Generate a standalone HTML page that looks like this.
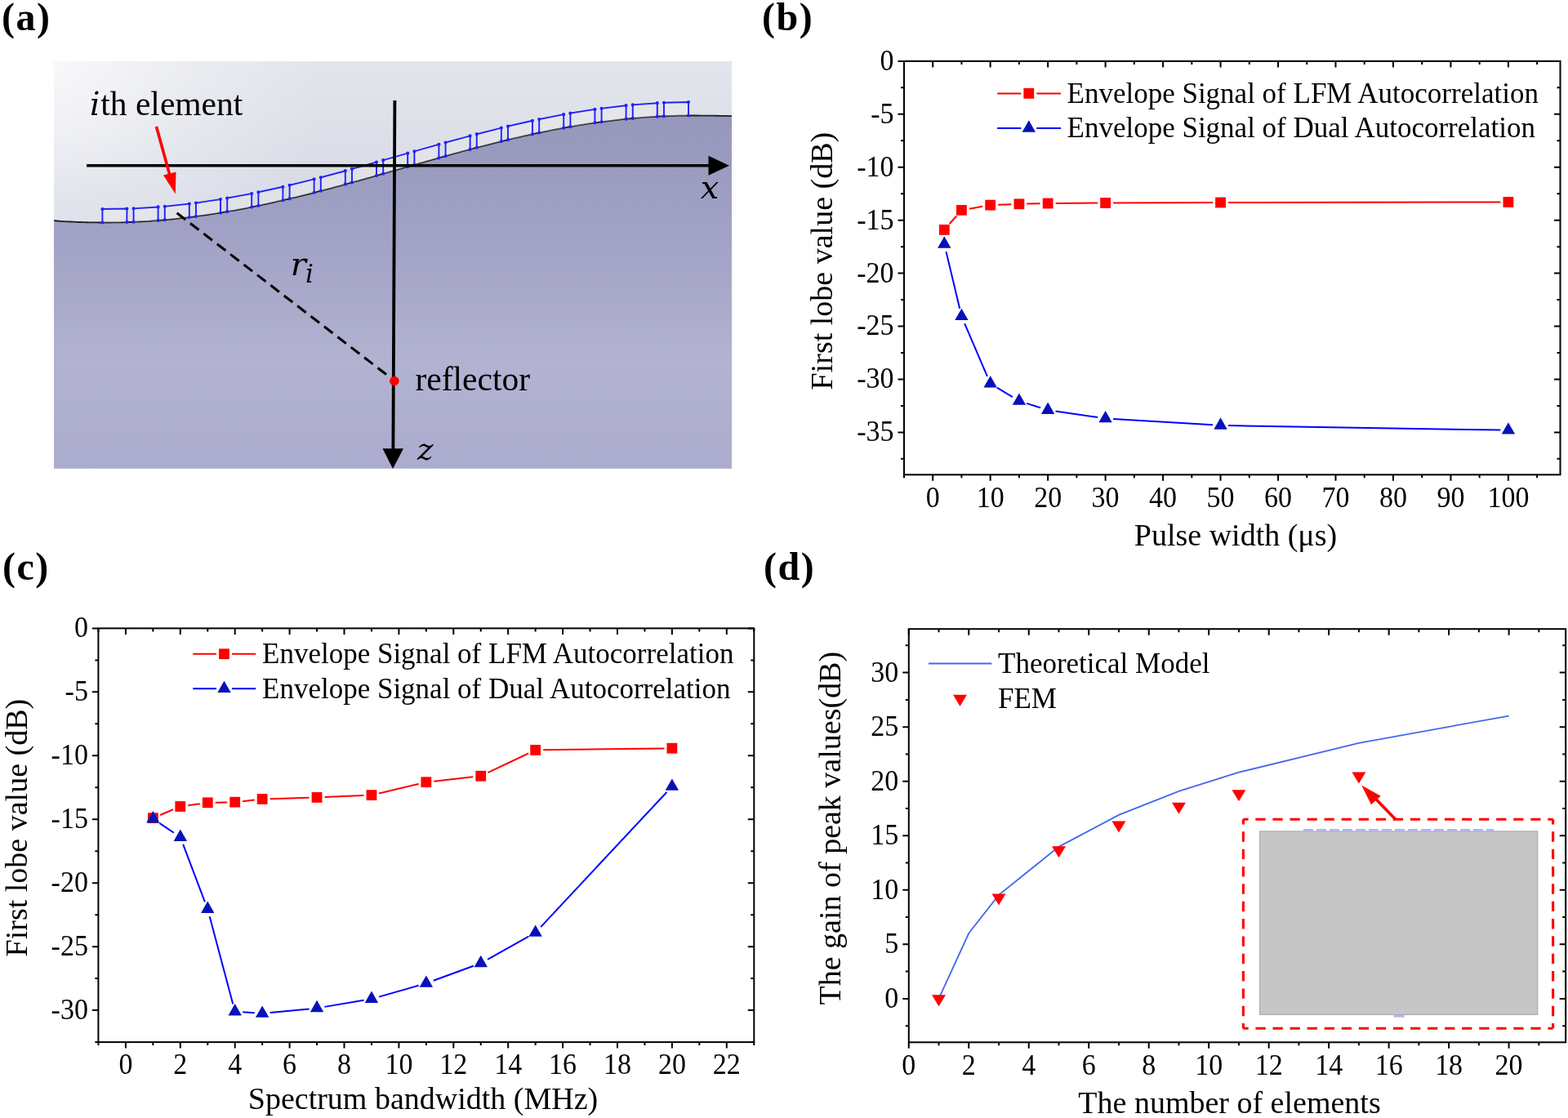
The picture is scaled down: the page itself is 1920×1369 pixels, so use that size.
<!DOCTYPE html>
<html><head><meta charset="utf-8"><title>Figure</title>
<style>html,body{margin:0;padding:0;background:#fff;width:1920px;height:1369px;overflow:hidden}svg{display:block}text{font-family:'Liberation Serif','Times New Roman',serif}</style>
</head><body>
<svg width="1920" height="1369" viewBox="0 0 1920 1369" font-family="'Liberation Serif','Times New Roman',serif">
<text x="2" y="36.5" font-size="48" font-weight="bold" letter-spacing="1.5">(a)</text>
<text x="933" y="36.5" font-size="48" font-weight="bold" letter-spacing="1.5">(b)</text>
<text x="3" y="709.5" font-size="48" font-weight="bold" letter-spacing="1.5">(c)</text>
<text x="935" y="709.5" font-size="48" font-weight="bold" letter-spacing="1.5">(d)</text>
<defs><linearGradient id="gup" gradientUnits="userSpaceOnUse" x1="0" y1="75" x2="0" y2="272"><stop offset="0" stop-color="#e3e5ec"/><stop offset="0.5" stop-color="#dcdfe8"/><stop offset="1" stop-color="#d5d8e5"/></linearGradient><radialGradient id="gupx" gradientUnits="userSpaceOnUse" cx="66" cy="75" r="330"><stop offset="0" stop-color="#fff" stop-opacity="0.75"/><stop offset="0.5" stop-color="#fff" stop-opacity="0.3"/><stop offset="1" stop-color="#fff" stop-opacity="0"/></radialGradient><linearGradient id="glo" gradientUnits="userSpaceOnUse" x1="0" y1="140" x2="0" y2="574"><stop offset="0" stop-color="#9597bb"/><stop offset="0.35" stop-color="#a1a2c5"/><stop offset="0.7" stop-color="#b2b2d1"/><stop offset="1" stop-color="#abacce"/></linearGradient></defs>
<rect x="66" y="75" width="830" height="498.7" fill="url(#gup)"/>
<rect x="66" y="75" width="830" height="498.7" fill="url(#gupx)"/>
<path d="M66 270.2L70 270.5L74 270.78L78 271.04L82 271.28L86 271.5L90 271.69L94 271.87L98 272.02L102 272.15L106 272.26L110 272.35L114 272.42L118 272.47L122 272.49L126 272.5L130 272.51L134 272.5L138 272.46L142 272.41L146 272.34L150 272.24L154 272.13L158 271.99L162 271.84L166 271.67L170 271.48L174 271.26L178 271.03L182 270.78L186 270.51L190 270.22L194 269.91L198 269.58L202 269.23L206 268.87L210 268.48L214 268.08L218 267.65L222 267.21L226 266.75L230 266.28L234 265.78L238 265.27L242 264.73L246 264.19L250 263.62L254 263.04L258 262.43L262 261.82L266 261.18L270 260.53L274 259.86L278 259.18L282 258.48L286 257.77L290 257.04L294 256.29L298 255.53L302 254.76L306 253.97L310 253.16L314 252.34L318 251.51L322 250.66L326 249.81L330 248.93L334 248.05L338 247.15L342 246.24L346 245.32L350 244.39L354 243.44L358 242.49L362 241.52L366 240.54L370 239.56L374 238.56L378 237.55L382 236.54L386 235.51L390 234.48L394 233.44L398 232.39L402 231.33L406 230.26L410 229.19L414 228.11L418 227.03L422 225.93L426 224.84L430 223.73L434 222.63L438 221.51L442 220.4L446 219.28L450 218.15L454 217.02L458 215.89L462 214.76L466 213.62L470 212.48L474 211.34L478 210.2L482 209.06L486 207.91L490 206.77L494 205.63L498 204.48L502 203.34L506 202.2L510 201.06L514 199.92L518 198.79L522 197.66L526 196.53L530 195.4L534 194.28L538 193.16L542 192.04L546 190.93L550 189.82L554 188.72L558 187.63L562 186.54L566 185.46L570 184.38L574 183.31L578 182.25L582 181.19L586 180.15L590 179.11L594 178.08L598 177.05L602 176.04L606 175.04L610 174.05L614 173.06L618 172.09L622 171.13L626 170.18L630 169.24L634 168.31L638 167.39L642 166.49L646 165.59L650 164.72L654 163.85L658 162.99L662 162.15L666 161.33L670 160.51L674 159.72L678 158.93L682 158.16L686 157.41L690 156.67L694 155.94L698 155.24L702 154.54L706 153.87L710 153.21L714 152.56L718 151.93L722 151.32L726 150.73L730 150.15L734 149.59L738 149.05L742 148.53L746 148.02L750 147.53L754 147.06L758 146.61L762 146.17L766 145.76L770 145.36L774 144.98L778 144.62L782 144.28L786 143.96L790 143.66L794 143.38L798 143.12L802 142.87L806 142.65L810 142.44L814 142.26L818 142.1L822 141.95L826 141.82L830 141.72L834 141.63L838 141.57L842 141.52L846 141.5L850 141.51L854 141.52L858 141.54L862 141.57L866 141.6L870 141.64L874 141.69L878 141.75L882 141.82L886 141.89L890 141.97L896 142.05L896 573.7L66 573.7Z" fill="url(#glo)"/>
<path d="M66 270.2L70 270.5L74 270.78L78 271.04L82 271.28L86 271.5L90 271.69L94 271.87L98 272.02L102 272.15L106 272.26L110 272.35L114 272.42L118 272.47L122 272.49L126 272.5L130 272.51L134 272.5L138 272.46L142 272.41L146 272.34L150 272.24L154 272.13L158 271.99L162 271.84L166 271.67L170 271.48L174 271.26L178 271.03L182 270.78L186 270.51L190 270.22L194 269.91L198 269.58L202 269.23L206 268.87L210 268.48L214 268.08L218 267.65L222 267.21L226 266.75L230 266.28L234 265.78L238 265.27L242 264.73L246 264.19L250 263.62L254 263.04L258 262.43L262 261.82L266 261.18L270 260.53L274 259.86L278 259.18L282 258.48L286 257.77L290 257.04L294 256.29L298 255.53L302 254.76L306 253.97L310 253.16L314 252.34L318 251.51L322 250.66L326 249.81L330 248.93L334 248.05L338 247.15L342 246.24L346 245.32L350 244.39L354 243.44L358 242.49L362 241.52L366 240.54L370 239.56L374 238.56L378 237.55L382 236.54L386 235.51L390 234.48L394 233.44L398 232.39L402 231.33L406 230.26L410 229.19L414 228.11L418 227.03L422 225.93L426 224.84L430 223.73L434 222.63L438 221.51L442 220.4L446 219.28L450 218.15L454 217.02L458 215.89L462 214.76L466 213.62L470 212.48L474 211.34L478 210.2L482 209.06L486 207.91L490 206.77L494 205.63L498 204.48L502 203.34L506 202.2L510 201.06L514 199.92L518 198.79L522 197.66L526 196.53L530 195.4L534 194.28L538 193.16L542 192.04L546 190.93L550 189.82L554 188.72L558 187.63L562 186.54L566 185.46L570 184.38L574 183.31L578 182.25L582 181.19L586 180.15L590 179.11L594 178.08L598 177.05L602 176.04L606 175.04L610 174.05L614 173.06L618 172.09L622 171.13L626 170.18L630 169.24L634 168.31L638 167.39L642 166.49L646 165.59L650 164.72L654 163.85L658 162.99L662 162.15L666 161.33L670 160.51L674 159.72L678 158.93L682 158.16L686 157.41L690 156.67L694 155.94L698 155.24L702 154.54L706 153.87L710 153.21L714 152.56L718 151.93L722 151.32L726 150.73L730 150.15L734 149.59L738 149.05L742 148.53L746 148.02L750 147.53L754 147.06L758 146.61L762 146.17L766 145.76L770 145.36L774 144.98L778 144.62L782 144.28L786 143.96L790 143.66L794 143.38L798 143.12L802 142.87L806 142.65L810 142.44L814 142.26L818 142.1L822 141.95L826 141.82L830 141.72L834 141.63L838 141.57L842 141.52L846 141.5L850 141.51L854 141.52L858 141.54L862 141.57L866 141.6L870 141.64L874 141.69L878 141.75L882 141.82L886 141.89L890 141.97L896 142.05" fill="none" stroke="#1e1e24" stroke-width="1.8"/>
<path d="M125.4 272.5L125.4 256L155.4 255.58L155.4 272.08ZM163.6 271.77L163.6 255.27L193.6 253.44L193.6 269.94ZM201.8 269.25L201.8 252.75L231.8 249.56L231.8 266.06ZM240 265L240 248.5L270 244.03L270 260.53ZM278.2 259.15L278.2 242.65L308.2 237.02L308.2 253.52ZM316.4 251.85L316.4 235.35L346.4 228.73L346.4 245.23ZM354.6 243.3L354.6 226.8L384.6 219.37L384.6 235.87ZM392.8 233.75L392.8 217.25L422.8 209.22L422.8 225.72ZM431 223.46L431 206.96L461 198.54L461 215.04ZM469.2 212.71L469.2 196.21L499.2 187.64L499.2 204.14ZM507.4 201.8L507.4 185.3L537.4 176.82L537.4 193.32ZM545.6 191.04L545.6 174.54L575.6 166.38L575.6 182.88ZM583.8 180.72L583.8 164.22L613.8 156.61L613.8 173.11ZM622 171.13L622 154.63L652 147.78L652 164.28ZM660.2 162.53L660.2 146.03L690.2 140.13L690.2 156.63ZM698.4 155.17L698.4 138.67L728.4 133.88L728.4 150.38ZM736.6 149.24L736.6 132.74L766.6 129.2L766.6 145.7ZM774.8 144.91L774.8 128.41L804.8 126.21L804.8 142.71ZM813 142.3L813 125.8L843 125.01L843 141.51Z" fill="#f2f3ec" fill-opacity="0.3"/>
<path d="M125.4 272.5L125.4 256L155.4 255.58L155.4 272.08M163.6 271.77L163.6 255.27L193.6 253.44L193.6 269.94M201.8 269.25L201.8 252.75L231.8 249.56L231.8 266.06M240 265L240 248.5L270 244.03L270 260.53M278.2 259.15L278.2 242.65L308.2 237.02L308.2 253.52M316.4 251.85L316.4 235.35L346.4 228.73L346.4 245.23M354.6 243.3L354.6 226.8L384.6 219.37L384.6 235.87M392.8 233.75L392.8 217.25L422.8 209.22L422.8 225.72M431 223.46L431 206.96L461 198.54L461 215.04M469.2 212.71L469.2 196.21L499.2 187.64L499.2 204.14M507.4 201.8L507.4 185.3L537.4 176.82L537.4 193.32M545.6 191.04L545.6 174.54L575.6 166.38L575.6 182.88M583.8 180.72L583.8 164.22L613.8 156.61L613.8 173.11M622 171.13L622 154.63L652 147.78L652 164.28M660.2 162.53L660.2 146.03L690.2 140.13L690.2 156.63M698.4 155.17L698.4 138.67L728.4 133.88L728.4 150.38M736.6 149.24L736.6 132.74L766.6 129.2L766.6 145.7M774.8 144.91L774.8 128.41L804.8 126.21L804.8 142.71M813 142.3L813 125.8L843 125.01L843 141.51" fill="none" stroke="#2222f8" stroke-width="1.9"/>
<path d="M125.4 272.5m-2.1 0a2.1 2.1 0 1 0 4.2 0a2.1 2.1 0 1 0 -4.2 0M125.4 256m-2.1 0a2.1 2.1 0 1 0 4.2 0a2.1 2.1 0 1 0 -4.2 0M155.4 255.58m-2.1 0a2.1 2.1 0 1 0 4.2 0a2.1 2.1 0 1 0 -4.2 0M155.4 272.08m-2.1 0a2.1 2.1 0 1 0 4.2 0a2.1 2.1 0 1 0 -4.2 0M163.6 271.77m-2.1 0a2.1 2.1 0 1 0 4.2 0a2.1 2.1 0 1 0 -4.2 0M163.6 255.27m-2.1 0a2.1 2.1 0 1 0 4.2 0a2.1 2.1 0 1 0 -4.2 0M193.6 253.44m-2.1 0a2.1 2.1 0 1 0 4.2 0a2.1 2.1 0 1 0 -4.2 0M193.6 269.94m-2.1 0a2.1 2.1 0 1 0 4.2 0a2.1 2.1 0 1 0 -4.2 0M201.8 269.25m-2.1 0a2.1 2.1 0 1 0 4.2 0a2.1 2.1 0 1 0 -4.2 0M201.8 252.75m-2.1 0a2.1 2.1 0 1 0 4.2 0a2.1 2.1 0 1 0 -4.2 0M231.8 249.56m-2.1 0a2.1 2.1 0 1 0 4.2 0a2.1 2.1 0 1 0 -4.2 0M231.8 266.06m-2.1 0a2.1 2.1 0 1 0 4.2 0a2.1 2.1 0 1 0 -4.2 0M240 265m-2.1 0a2.1 2.1 0 1 0 4.2 0a2.1 2.1 0 1 0 -4.2 0M240 248.5m-2.1 0a2.1 2.1 0 1 0 4.2 0a2.1 2.1 0 1 0 -4.2 0M270 244.03m-2.1 0a2.1 2.1 0 1 0 4.2 0a2.1 2.1 0 1 0 -4.2 0M270 260.53m-2.1 0a2.1 2.1 0 1 0 4.2 0a2.1 2.1 0 1 0 -4.2 0M278.2 259.15m-2.1 0a2.1 2.1 0 1 0 4.2 0a2.1 2.1 0 1 0 -4.2 0M278.2 242.65m-2.1 0a2.1 2.1 0 1 0 4.2 0a2.1 2.1 0 1 0 -4.2 0M308.2 237.02m-2.1 0a2.1 2.1 0 1 0 4.2 0a2.1 2.1 0 1 0 -4.2 0M308.2 253.52m-2.1 0a2.1 2.1 0 1 0 4.2 0a2.1 2.1 0 1 0 -4.2 0M316.4 251.85m-2.1 0a2.1 2.1 0 1 0 4.2 0a2.1 2.1 0 1 0 -4.2 0M316.4 235.35m-2.1 0a2.1 2.1 0 1 0 4.2 0a2.1 2.1 0 1 0 -4.2 0M346.4 228.73m-2.1 0a2.1 2.1 0 1 0 4.2 0a2.1 2.1 0 1 0 -4.2 0M346.4 245.23m-2.1 0a2.1 2.1 0 1 0 4.2 0a2.1 2.1 0 1 0 -4.2 0M354.6 243.3m-2.1 0a2.1 2.1 0 1 0 4.2 0a2.1 2.1 0 1 0 -4.2 0M354.6 226.8m-2.1 0a2.1 2.1 0 1 0 4.2 0a2.1 2.1 0 1 0 -4.2 0M384.6 219.37m-2.1 0a2.1 2.1 0 1 0 4.2 0a2.1 2.1 0 1 0 -4.2 0M384.6 235.87m-2.1 0a2.1 2.1 0 1 0 4.2 0a2.1 2.1 0 1 0 -4.2 0M392.8 233.75m-2.1 0a2.1 2.1 0 1 0 4.2 0a2.1 2.1 0 1 0 -4.2 0M392.8 217.25m-2.1 0a2.1 2.1 0 1 0 4.2 0a2.1 2.1 0 1 0 -4.2 0M422.8 209.22m-2.1 0a2.1 2.1 0 1 0 4.2 0a2.1 2.1 0 1 0 -4.2 0M422.8 225.72m-2.1 0a2.1 2.1 0 1 0 4.2 0a2.1 2.1 0 1 0 -4.2 0M431 223.46m-2.1 0a2.1 2.1 0 1 0 4.2 0a2.1 2.1 0 1 0 -4.2 0M431 206.96m-2.1 0a2.1 2.1 0 1 0 4.2 0a2.1 2.1 0 1 0 -4.2 0M461 198.54m-2.1 0a2.1 2.1 0 1 0 4.2 0a2.1 2.1 0 1 0 -4.2 0M461 215.04m-2.1 0a2.1 2.1 0 1 0 4.2 0a2.1 2.1 0 1 0 -4.2 0M469.2 212.71m-2.1 0a2.1 2.1 0 1 0 4.2 0a2.1 2.1 0 1 0 -4.2 0M469.2 196.21m-2.1 0a2.1 2.1 0 1 0 4.2 0a2.1 2.1 0 1 0 -4.2 0M499.2 187.64m-2.1 0a2.1 2.1 0 1 0 4.2 0a2.1 2.1 0 1 0 -4.2 0M499.2 204.14m-2.1 0a2.1 2.1 0 1 0 4.2 0a2.1 2.1 0 1 0 -4.2 0M507.4 201.8m-2.1 0a2.1 2.1 0 1 0 4.2 0a2.1 2.1 0 1 0 -4.2 0M507.4 185.3m-2.1 0a2.1 2.1 0 1 0 4.2 0a2.1 2.1 0 1 0 -4.2 0M537.4 176.82m-2.1 0a2.1 2.1 0 1 0 4.2 0a2.1 2.1 0 1 0 -4.2 0M537.4 193.32m-2.1 0a2.1 2.1 0 1 0 4.2 0a2.1 2.1 0 1 0 -4.2 0M545.6 191.04m-2.1 0a2.1 2.1 0 1 0 4.2 0a2.1 2.1 0 1 0 -4.2 0M545.6 174.54m-2.1 0a2.1 2.1 0 1 0 4.2 0a2.1 2.1 0 1 0 -4.2 0M575.6 166.38m-2.1 0a2.1 2.1 0 1 0 4.2 0a2.1 2.1 0 1 0 -4.2 0M575.6 182.88m-2.1 0a2.1 2.1 0 1 0 4.2 0a2.1 2.1 0 1 0 -4.2 0M583.8 180.72m-2.1 0a2.1 2.1 0 1 0 4.2 0a2.1 2.1 0 1 0 -4.2 0M583.8 164.22m-2.1 0a2.1 2.1 0 1 0 4.2 0a2.1 2.1 0 1 0 -4.2 0M613.8 156.61m-2.1 0a2.1 2.1 0 1 0 4.2 0a2.1 2.1 0 1 0 -4.2 0M613.8 173.11m-2.1 0a2.1 2.1 0 1 0 4.2 0a2.1 2.1 0 1 0 -4.2 0M622 171.13m-2.1 0a2.1 2.1 0 1 0 4.2 0a2.1 2.1 0 1 0 -4.2 0M622 154.63m-2.1 0a2.1 2.1 0 1 0 4.2 0a2.1 2.1 0 1 0 -4.2 0M652 147.78m-2.1 0a2.1 2.1 0 1 0 4.2 0a2.1 2.1 0 1 0 -4.2 0M652 164.28m-2.1 0a2.1 2.1 0 1 0 4.2 0a2.1 2.1 0 1 0 -4.2 0M660.2 162.53m-2.1 0a2.1 2.1 0 1 0 4.2 0a2.1 2.1 0 1 0 -4.2 0M660.2 146.03m-2.1 0a2.1 2.1 0 1 0 4.2 0a2.1 2.1 0 1 0 -4.2 0M690.2 140.13m-2.1 0a2.1 2.1 0 1 0 4.2 0a2.1 2.1 0 1 0 -4.2 0M690.2 156.63m-2.1 0a2.1 2.1 0 1 0 4.2 0a2.1 2.1 0 1 0 -4.2 0M698.4 155.17m-2.1 0a2.1 2.1 0 1 0 4.2 0a2.1 2.1 0 1 0 -4.2 0M698.4 138.67m-2.1 0a2.1 2.1 0 1 0 4.2 0a2.1 2.1 0 1 0 -4.2 0M728.4 133.88m-2.1 0a2.1 2.1 0 1 0 4.2 0a2.1 2.1 0 1 0 -4.2 0M728.4 150.38m-2.1 0a2.1 2.1 0 1 0 4.2 0a2.1 2.1 0 1 0 -4.2 0M736.6 149.24m-2.1 0a2.1 2.1 0 1 0 4.2 0a2.1 2.1 0 1 0 -4.2 0M736.6 132.74m-2.1 0a2.1 2.1 0 1 0 4.2 0a2.1 2.1 0 1 0 -4.2 0M766.6 129.2m-2.1 0a2.1 2.1 0 1 0 4.2 0a2.1 2.1 0 1 0 -4.2 0M766.6 145.7m-2.1 0a2.1 2.1 0 1 0 4.2 0a2.1 2.1 0 1 0 -4.2 0M774.8 144.91m-2.1 0a2.1 2.1 0 1 0 4.2 0a2.1 2.1 0 1 0 -4.2 0M774.8 128.41m-2.1 0a2.1 2.1 0 1 0 4.2 0a2.1 2.1 0 1 0 -4.2 0M804.8 126.21m-2.1 0a2.1 2.1 0 1 0 4.2 0a2.1 2.1 0 1 0 -4.2 0M804.8 142.71m-2.1 0a2.1 2.1 0 1 0 4.2 0a2.1 2.1 0 1 0 -4.2 0M813 142.3m-2.1 0a2.1 2.1 0 1 0 4.2 0a2.1 2.1 0 1 0 -4.2 0M813 125.8m-2.1 0a2.1 2.1 0 1 0 4.2 0a2.1 2.1 0 1 0 -4.2 0M843 125.01m-2.1 0a2.1 2.1 0 1 0 4.2 0a2.1 2.1 0 1 0 -4.2 0M843 141.51m-2.1 0a2.1 2.1 0 1 0 4.2 0a2.1 2.1 0 1 0 -4.2 0" fill="#2222f8"/>
<line x1="106" y1="202.8" x2="870" y2="202.8" stroke="#000" stroke-width="3.4"/>
<path d="M893 202.8L867.5 190.8L867.5 214.8Z" fill="#000"/>
<line x1="483.4" y1="123" x2="481.4" y2="552" stroke="#000" stroke-width="3.8"/>
<path d="M481 574L468.5 549.3L494 549.3Z" fill="#000"/>
<line x1="216.6" y1="260.8" x2="476.6" y2="461.3" stroke="#000" stroke-width="3.1" stroke-dasharray="13.3 7.4"/>
<circle cx="482.9" cy="466.5" r="5.8" fill="#ff0000"/>
<line x1="191.5" y1="155" x2="207.5" y2="213" stroke="#ff0000" stroke-width="3.6"/>
<path d="M214.8 237.5L200 214.5L215.5 210.5Z" fill="#ff0000"/>
<text x="110" y="140.7" font-size="39" font-style="italic" style="font-family:DejaVu Serif">i</text>
<text x="123.3" y="140.7" font-size="41.5">th element</text>
<text x="508.5" y="477.6" font-size="41.5">reflector</text>
<text x="857.8" y="243.3" font-size="40" font-style="italic" style="font-family:DejaVu Serif">x</text>
<text x="511" y="562.8" font-size="37" font-style="italic" style="font-family:DejaVu Serif">z</text>
<text x="355.8" y="336.8" font-size="40" font-style="italic" style="font-family:DejaVu Serif">r</text>
<text x="374" y="345.8" font-size="31" font-style="italic" style="font-family:DejaVu Serif">i</text>
<rect x="1107" y="74.9" width="803.5" height="506.4" fill="none" stroke="#000" stroke-width="2.0"/>
<path d="M1142.2 581.3v7.5M1142.2 74.9v7.5M1212.67 581.3v7.5M1212.67 74.9v7.5M1283.14 581.3v7.5M1283.14 74.9v7.5M1353.61 581.3v7.5M1353.61 74.9v7.5M1424.08 581.3v7.5M1424.08 74.9v7.5M1494.55 581.3v7.5M1494.55 74.9v7.5M1565.02 581.3v7.5M1565.02 74.9v7.5M1635.49 581.3v7.5M1635.49 74.9v7.5M1705.96 581.3v7.5M1705.96 74.9v7.5M1776.43 581.3v7.5M1776.43 74.9v7.5M1846.9 581.3v7.5M1846.9 74.9v7.5M1106.97 581.3v4M1106.97 74.9v4M1177.43 581.3v4M1177.43 74.9v4M1247.9 581.3v4M1247.9 74.9v4M1318.38 581.3v4M1318.38 74.9v4M1388.85 581.3v4M1388.85 74.9v4M1459.32 581.3v4M1459.32 74.9v4M1529.79 581.3v4M1529.79 74.9v4M1600.26 581.3v4M1600.26 74.9v4M1670.72 581.3v4M1670.72 74.9v4M1741.2 581.3v4M1741.2 74.9v4M1811.66 581.3v4M1811.66 74.9v4M1882.13 581.3v4M1882.13 74.9v4M1107 74.9h-7.5M1910.5 74.9h-7.5M1107 139.82h-7.5M1910.5 139.82h-7.5M1107 204.75h-7.5M1910.5 204.75h-7.5M1107 269.67h-7.5M1910.5 269.67h-7.5M1107 334.6h-7.5M1910.5 334.6h-7.5M1107 399.52h-7.5M1910.5 399.52h-7.5M1107 464.45h-7.5M1910.5 464.45h-7.5M1107 529.38h-7.5M1910.5 529.38h-7.5M1107 107.36h-4M1910.5 107.36h-4M1107 172.29h-4M1910.5 172.29h-4M1107 237.21h-4M1910.5 237.21h-4M1107 302.14h-4M1910.5 302.14h-4M1107 367.06h-4M1910.5 367.06h-4M1107 431.99h-4M1910.5 431.99h-4M1107 496.91h-4M1910.5 496.91h-4M1107 561.84h-4M1910.5 561.84h-4" stroke="#000" stroke-width="2.0" fill="none"/>
<text transform="translate(1142.2 620.6) scale(1 1.08)" font-size="34" text-anchor="middle">0</text>
<text transform="translate(1212.67 620.6) scale(1 1.08)" font-size="34" text-anchor="middle">10</text>
<text transform="translate(1283.14 620.6) scale(1 1.08)" font-size="34" text-anchor="middle">20</text>
<text transform="translate(1353.61 620.6) scale(1 1.08)" font-size="34" text-anchor="middle">30</text>
<text transform="translate(1424.08 620.6) scale(1 1.08)" font-size="34" text-anchor="middle">40</text>
<text transform="translate(1494.55 620.6) scale(1 1.08)" font-size="34" text-anchor="middle">50</text>
<text transform="translate(1565.02 620.6) scale(1 1.08)" font-size="34" text-anchor="middle">60</text>
<text transform="translate(1635.49 620.6) scale(1 1.08)" font-size="34" text-anchor="middle">70</text>
<text transform="translate(1705.96 620.6) scale(1 1.08)" font-size="34" text-anchor="middle">80</text>
<text transform="translate(1776.43 620.6) scale(1 1.08)" font-size="34" text-anchor="middle">90</text>
<text transform="translate(1846.9 620.6) scale(1 1.08)" font-size="34" text-anchor="middle">100</text>
<text transform="translate(1094.5 85.8) scale(1 1.08)" font-size="34" text-anchor="end">0</text>
<text transform="translate(1094.5 150.72) scale(1 1.08)" font-size="34" text-anchor="end">-5</text>
<text transform="translate(1094.5 215.65) scale(1 1.08)" font-size="34" text-anchor="end">-10</text>
<text transform="translate(1094.5 280.57) scale(1 1.08)" font-size="34" text-anchor="end">-15</text>
<text transform="translate(1094.5 345.5) scale(1 1.08)" font-size="34" text-anchor="end">-20</text>
<text transform="translate(1094.5 410.42) scale(1 1.08)" font-size="34" text-anchor="end">-25</text>
<text transform="translate(1094.5 475.35) scale(1 1.08)" font-size="34" text-anchor="end">-30</text>
<text transform="translate(1094.5 540.27) scale(1 1.08)" font-size="34" text-anchor="end">-35</text>
<path d="M1162.57 274.23L1171.16 264.47M1186.79 255.68L1203.32 252.76M1222.16 250.76L1238.41 250.16M1257.4 249.6L1273.64 249.24M1292.64 248.96L1344.11 248.58M1363.11 248.47L1485.05 248.03M1504.05 247.98L1837.4 247.48" stroke="#ff0000" stroke-width="2" fill="none"/>
<path d="M1158.5 308.13L1175.23 378.08M1181.17 396.05L1208.93 460.91M1220.79 474.58L1239.79 486.13M1256.97 493.91L1274.07 499.27M1292.54 503.49L1344.21 511.11M1363.09 513.06L1485.07 520.37M1504.05 521.09L1837.4 526.62" stroke="#0000ff" stroke-width="2" fill="none"/>
<rect x="1149.89" y="274.96" width="12.8" height="12.8" fill="#ff0000"/>
<rect x="1171.03" y="250.94" width="12.8" height="12.8" fill="#ff0000"/>
<rect x="1206.27" y="244.71" width="12.8" height="12.8" fill="#ff0000"/>
<rect x="1241.5" y="243.41" width="12.8" height="12.8" fill="#ff0000"/>
<rect x="1276.74" y="242.63" width="12.8" height="12.8" fill="#ff0000"/>
<rect x="1347.21" y="242.11" width="12.8" height="12.8" fill="#ff0000"/>
<rect x="1488.15" y="241.59" width="12.8" height="12.8" fill="#ff0000"/>
<rect x="1840.5" y="241.07" width="12.8" height="12.8" fill="#ff0000"/>
<path d="M1156.29 289.29L1164.49 303.69L1148.09 303.69Z" fill="#0612b8"/>
<path d="M1177.43 377.72L1185.63 392.12L1169.23 392.12Z" fill="#0612b8"/>
<path d="M1212.67 460.04L1220.87 474.44L1204.47 474.44Z" fill="#0612b8"/>
<path d="M1247.9 481.47L1256.11 495.87L1239.7 495.87Z" fill="#0612b8"/>
<path d="M1283.14 492.51L1291.34 506.91L1274.94 506.91Z" fill="#0612b8"/>
<path d="M1353.61 502.89L1361.81 517.29L1345.41 517.29Z" fill="#0612b8"/>
<path d="M1494.55 511.33L1502.75 525.73L1486.35 525.73Z" fill="#0612b8"/>
<path d="M1846.9 517.18L1855.1 531.58L1838.7 531.58Z" fill="#0612b8"/>
<path d="M1221.1 114.4H1250.3M1269.3 114.4H1299" stroke="#ff0000" stroke-width="2" fill="none"/>
<rect x="1253.4" y="108" width="12.8" height="12.8" fill="#ff0000"/>
<path d="M1221.1 156.9H1250.3M1269.3 156.9H1299" stroke="#0000ff" stroke-width="2" fill="none"/>
<path d="M1259.8 147.3L1268 161.7L1251.6 161.7Z" fill="#0612b8"/>
<text x="1306.5" y="125.6" font-size="35">Envelope Signal of LFM Autocorrelation</text>
<text x="1306.5" y="167.8" font-size="35">Envelope Signal of Dual Autocorrelation</text>
<text x="1513" y="668.2" font-size="38" text-anchor="middle">Pulse width (μs)</text>
<text x="1019" y="319.6" font-size="38" text-anchor="middle" transform="rotate(-90 1019 319.6)">First lobe value (dB)</text>
<rect x="120.4" y="769.4" width="802.9" height="506.7" fill="none" stroke="#000" stroke-width="2.0"/>
<path d="M153.9 1276.1v7.5M153.9 769.4v7.5M220.8 1276.1v7.5M220.8 769.4v7.5M287.7 1276.1v7.5M287.7 769.4v7.5M354.6 1276.1v7.5M354.6 769.4v7.5M421.5 1276.1v7.5M421.5 769.4v7.5M488.4 1276.1v7.5M488.4 769.4v7.5M555.3 1276.1v7.5M555.3 769.4v7.5M622.2 1276.1v7.5M622.2 769.4v7.5M689.1 1276.1v7.5M689.1 769.4v7.5M756 1276.1v7.5M756 769.4v7.5M822.9 1276.1v7.5M822.9 769.4v7.5M889.8 1276.1v7.5M889.8 769.4v7.5M120.45 1276.1v4M120.45 769.4v4M187.35 1276.1v4M187.35 769.4v4M254.25 1276.1v4M254.25 769.4v4M321.15 1276.1v4M321.15 769.4v4M388.05 1276.1v4M388.05 769.4v4M454.95 1276.1v4M454.95 769.4v4M521.85 1276.1v4M521.85 769.4v4M588.75 1276.1v4M588.75 769.4v4M655.65 1276.1v4M655.65 769.4v4M722.55 1276.1v4M722.55 769.4v4M789.45 1276.1v4M789.45 769.4v4M856.35 1276.1v4M856.35 769.4v4M923.25 1276.1v4M923.25 769.4v4M120.4 769.4h-7.5M923.3 769.4h-7.5M120.4 847.35h-7.5M923.3 847.35h-7.5M120.4 925.3h-7.5M923.3 925.3h-7.5M120.4 1003.25h-7.5M923.3 1003.25h-7.5M120.4 1081.2h-7.5M923.3 1081.2h-7.5M120.4 1159.15h-7.5M923.3 1159.15h-7.5M120.4 1237.1h-7.5M923.3 1237.1h-7.5M120.4 808.38h-4M923.3 808.38h-4M120.4 886.32h-4M923.3 886.32h-4M120.4 964.27h-4M923.3 964.27h-4M120.4 1042.22h-4M923.3 1042.22h-4M120.4 1120.17h-4M923.3 1120.17h-4M120.4 1198.12h-4M923.3 1198.12h-4M120.4 1276.08h-4M923.3 1276.08h-4" stroke="#000" stroke-width="2.0" fill="none"/>
<text transform="translate(153.9 1315.4) scale(1 1.08)" font-size="34" text-anchor="middle">0</text>
<text transform="translate(220.8 1315.4) scale(1 1.08)" font-size="34" text-anchor="middle">2</text>
<text transform="translate(287.7 1315.4) scale(1 1.08)" font-size="34" text-anchor="middle">4</text>
<text transform="translate(354.6 1315.4) scale(1 1.08)" font-size="34" text-anchor="middle">6</text>
<text transform="translate(421.5 1315.4) scale(1 1.08)" font-size="34" text-anchor="middle">8</text>
<text transform="translate(488.4 1315.4) scale(1 1.08)" font-size="34" text-anchor="middle">10</text>
<text transform="translate(555.3 1315.4) scale(1 1.08)" font-size="34" text-anchor="middle">12</text>
<text transform="translate(622.2 1315.4) scale(1 1.08)" font-size="34" text-anchor="middle">14</text>
<text transform="translate(689.1 1315.4) scale(1 1.08)" font-size="34" text-anchor="middle">16</text>
<text transform="translate(756 1315.4) scale(1 1.08)" font-size="34" text-anchor="middle">18</text>
<text transform="translate(822.9 1315.4) scale(1 1.08)" font-size="34" text-anchor="middle">20</text>
<text transform="translate(889.8 1315.4) scale(1 1.08)" font-size="34" text-anchor="middle">22</text>
<text transform="translate(107.9 780.3) scale(1 1.08)" font-size="34" text-anchor="end">0</text>
<text transform="translate(107.9 858.25) scale(1 1.08)" font-size="34" text-anchor="end">-5</text>
<text transform="translate(107.9 936.2) scale(1 1.08)" font-size="34" text-anchor="end">-10</text>
<text transform="translate(107.9 1014.15) scale(1 1.08)" font-size="34" text-anchor="end">-15</text>
<text transform="translate(107.9 1092.1) scale(1 1.08)" font-size="34" text-anchor="end">-20</text>
<text transform="translate(107.9 1170.05) scale(1 1.08)" font-size="34" text-anchor="end">-25</text>
<text transform="translate(107.9 1248) scale(1 1.08)" font-size="34" text-anchor="end">-30</text>
<path d="M196.1 997.98L212.05 991.21M230.21 986.19L244.84 984.14M263.75 982.65L278.2 982.38M297.14 981.15L311.71 979.52M330.65 978.17L378.55 976.72M397.54 976.04L445.46 974.03M464.19 971.43L512.61 959.92M531.29 956.67L579.31 951.3M597.33 946.17L647.07 922.52M665.15 918.32L813.4 916.38" stroke="#ff0000" stroke-width="2" fill="none"/>
<path d="M195.24 1007.92L212.91 1019.78M224.17 1033.96L250.88 1104.28M256.7 1122.34L285.25 1229.48M297.18 1239.32L311.67 1240.33M330.6 1240.07L378.6 1235.38M397.42 1232.88L445.58 1224.8M464.08 1220.61L512.72 1206.67M530.76 1200.77L579.84 1182.7M597.04 1174.78L647.36 1146.64M662.14 1135.06L816.41 969.97" stroke="#0000ff" stroke-width="2" fill="none"/>
<rect x="180.95" y="995.29" width="12.8" height="12.8" fill="#ff0000"/>
<rect x="214.4" y="981.1" width="12.8" height="12.8" fill="#ff0000"/>
<rect x="247.85" y="976.43" width="12.8" height="12.8" fill="#ff0000"/>
<rect x="281.3" y="975.8" width="12.8" height="12.8" fill="#ff0000"/>
<rect x="314.75" y="972.06" width="12.8" height="12.8" fill="#ff0000"/>
<rect x="381.65" y="970.04" width="12.8" height="12.8" fill="#ff0000"/>
<rect x="448.55" y="967.23" width="12.8" height="12.8" fill="#ff0000"/>
<rect x="515.45" y="951.33" width="12.8" height="12.8" fill="#ff0000"/>
<rect x="582.35" y="943.84" width="12.8" height="12.8" fill="#ff0000"/>
<rect x="649.25" y="912.04" width="12.8" height="12.8" fill="#ff0000"/>
<rect x="816.5" y="909.86" width="12.8" height="12.8" fill="#ff0000"/>
<path d="M187.35 993.03L195.55 1007.43L179.15 1007.43Z" fill="#0612b8"/>
<path d="M220.8 1015.48L229 1029.88L212.6 1029.88Z" fill="#0612b8"/>
<path d="M254.25 1103.56L262.45 1117.96L246.05 1117.96Z" fill="#0612b8"/>
<path d="M287.7 1229.06L295.9 1243.46L279.5 1243.46Z" fill="#0612b8"/>
<path d="M321.15 1231.4L329.35 1245.8L312.95 1245.8Z" fill="#0612b8"/>
<path d="M388.05 1224.85L396.25 1239.25L379.85 1239.25Z" fill="#0612b8"/>
<path d="M454.95 1213.62L463.15 1228.02L446.75 1228.02Z" fill="#0612b8"/>
<path d="M521.85 1194.45L530.05 1208.85L513.65 1208.85Z" fill="#0612b8"/>
<path d="M588.75 1169.82L596.95 1184.22L580.55 1184.22Z" fill="#0612b8"/>
<path d="M655.65 1132.4L663.85 1146.8L647.45 1146.8Z" fill="#0612b8"/>
<path d="M822.9 953.43L831.1 967.83L814.7 967.83Z" fill="#0612b8"/>
<path d="M236.25 800.75H265M284 800.75H313.25" stroke="#ff0000" stroke-width="2" fill="none"/>
<rect x="268.1" y="794.35" width="12.8" height="12.8" fill="#ff0000"/>
<path d="M236.25 843.25H265M284 843.25H313.25" stroke="#0000ff" stroke-width="2" fill="none"/>
<path d="M274.5 833.65L282.7 848.05L266.3 848.05Z" fill="#0612b8"/>
<text x="321" y="811.6" font-size="35">Envelope Signal of LFM Autocorrelation</text>
<text x="321" y="854.6" font-size="35">Envelope Signal of Dual Autocorrelation</text>
<text x="518" y="1357.8" font-size="38" text-anchor="middle">Spectrum bandwidth (MHz)</text>
<text x="33" y="1013.6" font-size="38" text-anchor="middle" transform="rotate(-90 33 1013.6)">First lobe value (dB)</text>
<rect x="1112.8" y="770.2" width="804.4" height="506.1" fill="none" stroke="#000" stroke-width="2.0"/>
<path d="M1112.8 1276.3v7.5M1112.8 770.2v7.5M1186.28 1276.3v7.5M1186.28 770.2v7.5M1259.76 1276.3v7.5M1259.76 770.2v7.5M1333.24 1276.3v7.5M1333.24 770.2v7.5M1406.72 1276.3v7.5M1406.72 770.2v7.5M1480.2 1276.3v7.5M1480.2 770.2v7.5M1553.68 1276.3v7.5M1553.68 770.2v7.5M1627.16 1276.3v7.5M1627.16 770.2v7.5M1700.64 1276.3v7.5M1700.64 770.2v7.5M1774.12 1276.3v7.5M1774.12 770.2v7.5M1847.6 1276.3v7.5M1847.6 770.2v7.5M1149.54 1276.3v4M1149.54 770.2v4M1223.02 1276.3v4M1223.02 770.2v4M1296.5 1276.3v4M1296.5 770.2v4M1369.98 1276.3v4M1369.98 770.2v4M1443.46 1276.3v4M1443.46 770.2v4M1516.94 1276.3v4M1516.94 770.2v4M1590.42 1276.3v4M1590.42 770.2v4M1663.9 1276.3v4M1663.9 770.2v4M1737.38 1276.3v4M1737.38 770.2v4M1810.86 1276.3v4M1810.86 770.2v4M1884.34 1276.3v4M1884.34 770.2v4M1112.8 1222.9h-7.5M1917.2 1222.9h-7.5M1112.8 1156.35h-7.5M1917.2 1156.35h-7.5M1112.8 1089.8h-7.5M1917.2 1089.8h-7.5M1112.8 1023.25h-7.5M1917.2 1023.25h-7.5M1112.8 956.7h-7.5M1917.2 956.7h-7.5M1112.8 890.15h-7.5M1917.2 890.15h-7.5M1112.8 823.6h-7.5M1917.2 823.6h-7.5M1112.8 1256.18h-4M1917.2 1256.18h-4M1112.8 1189.62h-4M1917.2 1189.62h-4M1112.8 1123.08h-4M1917.2 1123.08h-4M1112.8 1056.53h-4M1917.2 1056.53h-4M1112.8 989.98h-4M1917.2 989.98h-4M1112.8 923.43h-4M1917.2 923.43h-4M1112.8 856.88h-4M1917.2 856.88h-4M1112.8 790.33h-4M1917.2 790.33h-4" stroke="#000" stroke-width="2.0" fill="none"/>
<text transform="translate(1112.8 1315.6) scale(1 1.08)" font-size="34" text-anchor="middle">0</text>
<text transform="translate(1186.28 1315.6) scale(1 1.08)" font-size="34" text-anchor="middle">2</text>
<text transform="translate(1259.76 1315.6) scale(1 1.08)" font-size="34" text-anchor="middle">4</text>
<text transform="translate(1333.24 1315.6) scale(1 1.08)" font-size="34" text-anchor="middle">6</text>
<text transform="translate(1406.72 1315.6) scale(1 1.08)" font-size="34" text-anchor="middle">8</text>
<text transform="translate(1480.2 1315.6) scale(1 1.08)" font-size="34" text-anchor="middle">10</text>
<text transform="translate(1553.68 1315.6) scale(1 1.08)" font-size="34" text-anchor="middle">12</text>
<text transform="translate(1627.16 1315.6) scale(1 1.08)" font-size="34" text-anchor="middle">14</text>
<text transform="translate(1700.64 1315.6) scale(1 1.08)" font-size="34" text-anchor="middle">16</text>
<text transform="translate(1774.12 1315.6) scale(1 1.08)" font-size="34" text-anchor="middle">18</text>
<text transform="translate(1847.6 1315.6) scale(1 1.08)" font-size="34" text-anchor="middle">20</text>
<text transform="translate(1100.3 1233.8) scale(1 1.08)" font-size="34" text-anchor="end">0</text>
<text transform="translate(1100.3 1167.25) scale(1 1.08)" font-size="34" text-anchor="end">5</text>
<text transform="translate(1100.3 1100.7) scale(1 1.08)" font-size="34" text-anchor="end">10</text>
<text transform="translate(1100.3 1034.15) scale(1 1.08)" font-size="34" text-anchor="end">15</text>
<text transform="translate(1100.3 967.6) scale(1 1.08)" font-size="34" text-anchor="end">20</text>
<text transform="translate(1100.3 901.05) scale(1 1.08)" font-size="34" text-anchor="end">25</text>
<text transform="translate(1100.3 834.5) scale(1 1.08)" font-size="34" text-anchor="end">30</text>
<rect x="1542.6" y="1017.9" width="340.3" height="224.5" fill="#c6c6c6" stroke="#a6a6a6" stroke-width="1"/>
<path d="M1596 1016.6H1829" stroke="#b4b4f0" stroke-width="3" stroke-dasharray="12 4"/>
<path d="M1706.6 1244.2H1719.7" stroke="#b4b4f0" stroke-width="3"/>
<path d="M1522.4 1003.2L1901.6 1003.2" stroke="#ff0000" stroke-width="3.1" stroke-dasharray="12.28 8.78" stroke-dashoffset="6.14" fill="none"/>
<path d="M1901.6 1003.2L1901.6 1259.3" stroke="#ff0000" stroke-width="3.1" stroke-dasharray="12.44 8.9" stroke-dashoffset="6.22" fill="none"/>
<path d="M1901.6 1259.3L1522.4 1259.3" stroke="#ff0000" stroke-width="3.1" stroke-dasharray="12.28 8.78" stroke-dashoffset="6.14" fill="none"/>
<path d="M1522.4 1259.3L1522.4 1003.2" stroke="#ff0000" stroke-width="3.1" stroke-dasharray="12.44 8.9" stroke-dashoffset="6.22" fill="none"/>
<line x1="1709.2" y1="1003.7" x2="1680" y2="973.5" stroke="#ff0000" stroke-width="3.6"/>
<path d="M1667.1 961.6L1679 985.3L1690.8 974.7Z" fill="#ff0000"/>
<path d="M1149.54 1222.9L1186.28 1142.77L1223.02 1095.89L1296.5 1036.83L1369.98 997.93L1443.46 968.88L1516.94 945.68L1663.9 909.82L1847.6 876.57" fill="none" stroke="#4466ee" stroke-width="1.8"/>
<path d="M1149.54 1232.23L1158.04 1218.23L1141.04 1218.23Z" fill="#ff0000"/>
<path d="M1223.02 1108.45L1231.52 1094.45L1214.52 1094.45Z" fill="#ff0000"/>
<path d="M1296.5 1050.29L1305 1036.29L1288 1036.29Z" fill="#ff0000"/>
<path d="M1369.98 1019.54L1378.48 1005.54L1361.48 1005.54Z" fill="#ff0000"/>
<path d="M1443.46 996.78L1451.96 982.78L1434.96 982.78Z" fill="#ff0000"/>
<path d="M1516.94 981.34L1525.44 967.34L1508.44 967.34Z" fill="#ff0000"/>
<path d="M1663.9 959.38L1672.4 945.38L1655.4 945.38Z" fill="#ff0000"/>
<line x1="1137" y1="812.5" x2="1214.25" y2="812.5" stroke="#4466ee" stroke-width="1.8"/>
<path d="M1175.5 864.63L1184 850.63L1167 850.63Z" fill="#ff0000"/>
<text x="1222" y="824.25" font-size="35">Theoretical Model</text>
<text x="1222" y="866.75" font-size="35">FEM</text>
<text x="1505.5" y="1362.5" font-size="38" text-anchor="middle">The number of elements</text>
<text x="1028.6" y="1014.2" font-size="38" text-anchor="middle" transform="rotate(-90 1028.6 1014.2)">The gain of peak values(dB)</text>
</svg>
</body></html>
